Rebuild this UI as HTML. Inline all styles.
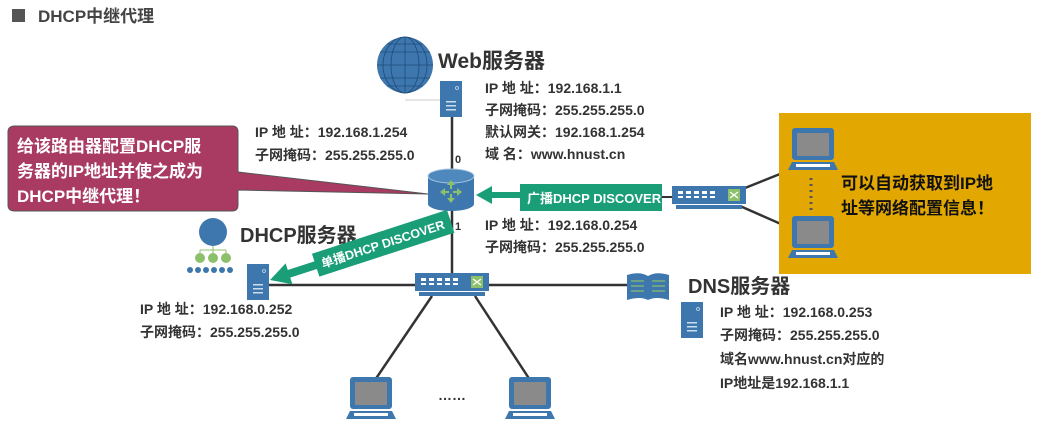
<!DOCTYPE html>
<html><head><meta charset="utf-8"><style>
html,body{margin:0;padding:0;background:#fff;}
svg{display:block;}
text{font-family:"Liberation Sans","Noto Sans CJK SC",sans-serif;font-weight:bold;fill:#333;}
</style></head><body>
<svg width="1038" height="431" viewBox="0 0 1038 431" xmlns="http://www.w3.org/2000/svg">
<defs>
<g id="laptop">
<rect x="4" y="0" width="42" height="32" rx="3" fill="#3d77ae"/>
<rect x="9" y="5" width="32" height="23" fill="#8a8a8a"/>
<path d="M0 42 L4 34 L46 34 L50 42 Z" fill="#3d77ae"/>
<rect x="8" y="36" width="34" height="3" fill="#fff"/>
</g>
<g id="server">
<rect x="0" y="0" width="22" height="36" fill="#3d77ae"/>
<circle cx="17" cy="7" r="1.5" fill="none" stroke="#cde" stroke-width="0.8"/>
<rect x="6" y="20" width="10" height="1.5" fill="#cde"/>
<rect x="6" y="24" width="10" height="1.5" fill="#cde"/>
<rect x="6" y="28" width="10" height="1.5" fill="#cde"/>
</g>
<g id="switch">
<rect x="0" y="0" width="74" height="18" fill="#3d77ae"/>
<rect x="4" y="19" width="66" height="4" fill="#3d77ae"/>
<g fill="#fff"><rect x="6" y="5" width="5" height="3"/><rect x="14" y="5" width="5" height="3"/><rect x="22" y="5" width="5" height="3"/><rect x="30" y="5" width="5" height="3"/><rect x="38" y="5" width="5" height="3"/>
<rect x="6" y="10" width="5" height="2"/><rect x="14" y="10" width="5" height="2"/><rect x="22" y="10" width="5" height="2"/><rect x="30" y="10" width="5" height="2"/><rect x="38" y="10" width="5" height="2"/></g>
<rect x="56" y="3" width="12" height="12" fill="#8dc06a"/>
<path d="M58 6 L66 12 M58 12 L66 6" stroke="#fff" stroke-width="1.2"/>
</g>
</defs>

<rect x="12" y="9" width="13" height="13" fill="#555"/>
<text x="38" y="22" font-size="17" style="fill:#444">DHCP中继代理</text>

<line x1="452" y1="100" x2="452" y2="285" stroke="#333" stroke-width="2.5"/>
<line x1="262" y1="285" x2="630" y2="285" stroke="#333" stroke-width="2.5"/>
<line x1="432" y1="296" x2="375" y2="380" stroke="#333" stroke-width="2.5"/>
<line x1="475" y1="296" x2="530" y2="380" stroke="#333" stroke-width="2.5"/>
<line x1="740" y1="190" x2="790" y2="170" stroke="#333" stroke-width="2.5"/>
<line x1="740" y1="206" x2="790" y2="228" stroke="#333" stroke-width="2.5"/>
<line x1="405" y1="100" x2="440" y2="100" stroke="#ccc" stroke-width="1"/>

<circle cx="405" cy="65" r="28" fill="#3d77ae"/>
<g stroke="#1e4c7a" stroke-width="0.8" fill="none">
<ellipse cx="405" cy="65" rx="14" ry="28"/><ellipse cx="405" cy="65" rx="22" ry="28"/><line x1="405" y1="37" x2="405" y2="93"/>
<line x1="377" y1="65" x2="433" y2="65"/><line x1="380" y1="52" x2="430" y2="52"/><line x1="380" y1="78" x2="430" y2="78"/><line x1="387" y1="44" x2="423" y2="44"/><line x1="387" y1="86" x2="423" y2="86"/></g>
<use href="#server" x="440" y="81"/>
<text x="438" y="68" font-size="21">Web服务器</text>
<g font-size="14"><text x="485" y="93">IP 地  址：192.168.1.1</text>
<text x="485" y="115">子网掩码：255.255.255.0</text>
<text x="485" y="137">默认网关：192.168.1.254</text>
<text x="485" y="159">域      名：www.hnust.cn</text>
<text x="255" y="137">IP 地  址：192.168.1.254</text>
<text x="255" y="160">子网掩码：255.255.255.0</text>
<text x="485" y="230">IP 地  址：192.168.0.254</text>
<text x="485" y="252">子网掩码：255.255.255.0</text>
<text x="140" y="314">IP 地  址：192.168.0.252</text>
<text x="140" y="337">子网掩码：255.255.255.0</text>
<text x="720" y="317">IP 地  址：192.168.0.253</text>
<text x="720" y="340">子网掩码：255.255.255.0</text>
<text x="720" y="364">域名www.hnust.cn对应的</text>
<text x="720" y="388">IP地址是192.168.1.1</text></g>
<text x="455" y="163" font-size="11">0</text>
<text x="455" y="230" font-size="11">1</text>

<path d="M15 126 H232 Q238 126 238 132 V172 L428 194 L238 190 V205 Q238 211 232 211 H15 Q8 211 8 205 V132 Q8 126 15 126 Z" fill="#a93b62" stroke="#555" stroke-width="1"/>
<g font-size="17"><text x="17" y="152" style="fill:#fff">给该路由器配置DHCP服</text>
<text x="17" y="177" style="fill:#fff">务器的IP地址并使之成为</text>
<text x="17" y="202" style="fill:#fff">DHCP中继代理！</text></g>

<path d="M428 176 V204 A23 7 0 0 0 474 204 V176 Z" fill="#3d77ae"/>
<ellipse cx="451" cy="176" rx="23" ry="7" fill="#4f88bd" stroke="#a9c6e2" stroke-width="1"/>
<g fill="#8dc06a"><path d="M451 180 l-4 5 h3 v4 h2 v-4 h3z"/><path d="M451 203 l-4 -5 h3 v-4 h2 v4 h3z"/><path d="M440 192 l5 -4 v3 h4 v2 h-4 v3z"/><path d="M462 192 l-5 -4 v3 h-4 v2 h4 v3z"/></g>

<path d="M476 195 L492 186 V192 H522 V198 H492 V204 Z" fill="#1a9e78"/>
<rect x="520" y="184" width="142" height="27" fill="#1a9e78"/>
<text x="527" y="203" font-size="13" style="fill:#fff">广播DHCP DISCOVER</text>
<line x1="662" y1="197" x2="672" y2="197" stroke="#333" stroke-width="2"/>
<use href="#switch" x="672" y="186"/>

<rect x="779" y="113" width="252" height="161" fill="#e2a700"/>
<use href="#laptop" x="788" y="128"/>
<use href="#laptop" x="788" y="216"/>
<line x1="811" y1="178" x2="811" y2="212" stroke="#555" stroke-width="3" stroke-dasharray="2 4"/>
<g font-size="17"><text x="841" y="189" style="fill:#111">可以自动获取到IP地</text>
<text x="841" y="214" style="fill:#111">址等网络配置信息！</text></g>

<circle cx="213" cy="232" r="14" fill="#3d77ae"/>
<g stroke="#8dc06a" stroke-width="1" fill="none"><path d="M213 246 V250 M200 250 H226 M200 250 V254 M213 250 V254 M226 250 V254"/></g>
<circle cx="200" cy="258" r="5" fill="#8dc06a"/><circle cx="213" cy="258" r="5" fill="#8dc06a"/><circle cx="226" cy="258" r="5" fill="#8dc06a"/>
<g fill="#3d77ae"><circle cx="190" cy="270" r="3"/><circle cx="198" cy="270" r="3"/><circle cx="206" cy="270" r="3"/><circle cx="214" cy="270" r="3"/><circle cx="222" cy="270" r="3"/><circle cx="230" cy="270" r="3"/></g>
<use href="#server" x="247" y="264"/>
<text x="240" y="242" font-size="20">DHCP服务器</text>

<g transform="translate(270,280) rotate(-18)">
<path d="M0 0 L20 -11 V-4 H52 V4 H20 V11 Z" fill="#1a9e78"/>
<rect x="48" y="-12" width="142" height="24" fill="#1a9e78"/>
<text x="54" y="5" font-size="12.5" style="fill:#fff">单播DHCP DISCOVER</text>
</g>

<use href="#switch" x="415" y="273"/>

<path d="M627 275 Q640 271 648 276 Q656 271 669 275 V300 Q656 296 648 300 Q640 296 627 300 Z" fill="#3d77ae"/>
<g stroke="#8dc06a" stroke-width="1.2"><line x1="631" y1="281" x2="644" y2="281"/><line x1="631" y1="286" x2="644" y2="286"/><line x1="631" y1="291" x2="644" y2="291"/><line x1="652" y1="281" x2="665" y2="281"/><line x1="652" y1="286" x2="665" y2="286"/><line x1="652" y1="291" x2="665" y2="291"/></g>
<use href="#server" x="681" y="302"/>
<text x="688" y="293" font-size="20">DNS服务器</text>

<use href="#laptop" x="346" y="377"/>
<use href="#laptop" x="505" y="377"/>
<text x="438" y="400" font-size="14">……</text>
</svg>
</body></html>
